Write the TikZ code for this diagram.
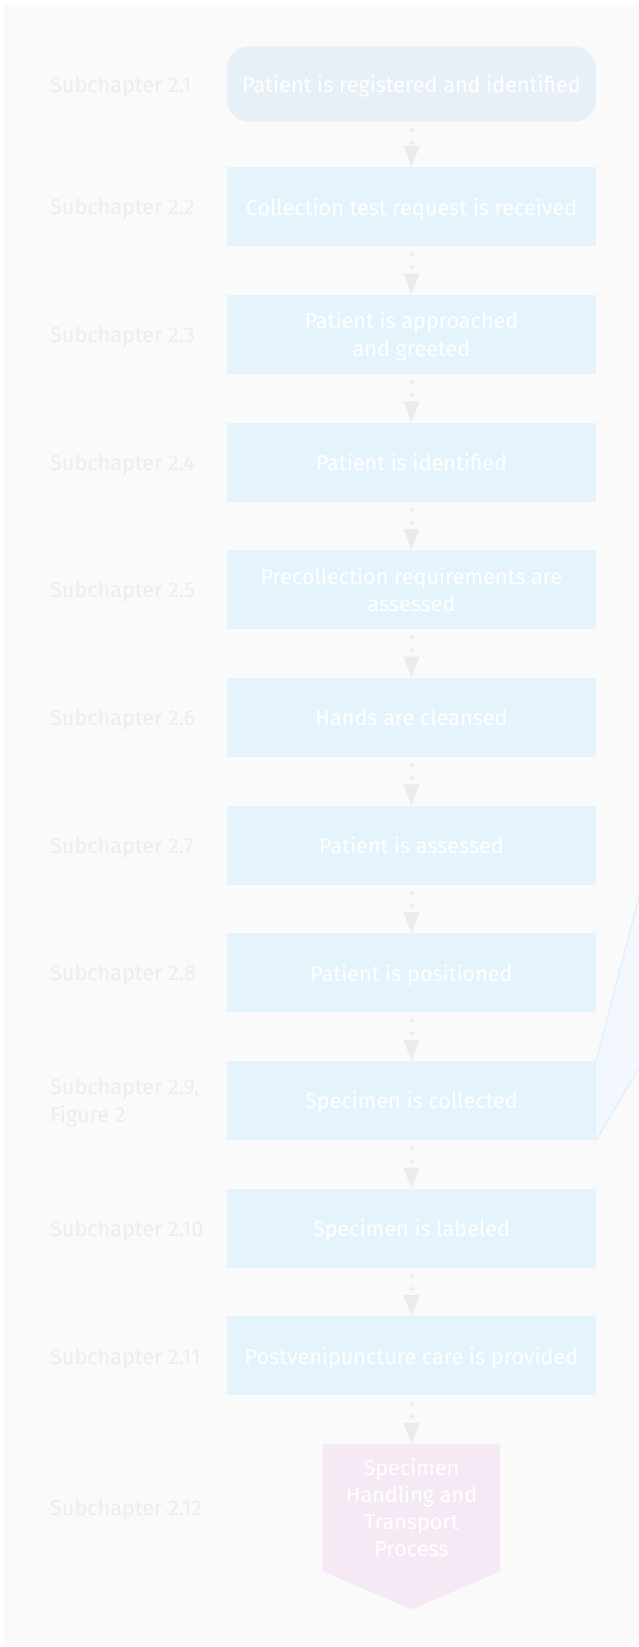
\documentclass[tikz,border=0pt]{standalone}
\usepackage{fontspec}
\setmainfont{Fira Sans}
\usetikzlibrary{arrows.meta,positioning,backgrounds}

\definecolor{pagebg}{HTML}{FAFAFA}
\definecolor{stepblue}{HTML}{E5F4FC}
\definecolor{startblue}{HTML}{E7EFF7}
\definecolor{endpink}{HTML}{F4E9F4}
\definecolor{labelgray}{HTML}{EDEDED}
\definecolor{arrowgray}{HTML}{EBEBEB}
\definecolor{zoomfill}{HTML}{F2F8FD}
\definecolor{zoomline}{HTML}{E2F1FB}

\begin{document}
\begin{tikzpicture}[x=1pt, y=-1pt, node distance=48.3pt,
  stepbox/.style={fill=stepblue, text=white, minimum width=369pt, minimum height=79pt, inner sep=0pt, text depth=0pt, align=center, font=\fontsize{21.6}{27.5}\selectfont},
  startbox/.style={stepbox, fill=startblue, rounded corners=22pt, minimum height=75pt},
  endbox/.style={text=white, minimum width=177pt, minimum height=127pt, inner sep=0pt, text depth=0pt, align=center, font=\fontsize{21.6}{27}\selectfont},
  sublabel/.style={anchor=west, inner sep=0pt, text depth=0pt, text=labelgray, align=left, font=\fontsize{21.6}{27.5}\selectfont},
  flow/.style={draw=arrowgray, line width=4pt, line cap=round, dash pattern=on 0pt off 13pt, dash phase=5pt, -{Triangle[length=21pt,width=15pt]}}]
\useasboundingbox (0,0) rectangle (639,1647);
\begin{scope}[on background layer]
\fill[pagebg] (4,5) rectangle (639,1646);
\end{scope}

% steps
\node[startbox] (s1) at (411.5,84.2) {Patient is registered and identified};
\node[stepbox, below=45pt of s1] (s2) {Collection test request is received};
\node[stepbox, below=of s2] (s3) {Patient is approached\\and greeted};
\node[stepbox, below=of s3] (s4) {Patient is identified};
\node[stepbox, below=of s4] (s5) {Precollection requirements are\\assessed};
\node[stepbox, below=of s5] (s6) {Hands are cleansed};
\node[stepbox, below=of s6] (s7) {Patient is assessed};
\node[stepbox, below=of s7] (s8) {Patient is positioned};
\node[stepbox, below=of s8] (s9) {Specimen is collected};
\node[stepbox, below=of s9] (s10) {Specimen is labeled};
\node[stepbox, below=of s10] (s11) {Postvenipuncture care is provided};
\node[endbox, below=of s11] (s12) {Specimen\\Handling and\\Transport\\Process};
\begin{scope}[on background layer]
\fill[endpink] (s12.north west) -- (s12.north east) -- (s12.south east) -- ([yshift=-38pt]s12.south) -- (s12.south west) -- cycle;
\end{scope}

% zoom out of step 2.9
\fill[zoomfill] (s9.north east) -- (639,897) -- (639,1068) -- (s9.south east) -- cycle;
\draw[zoomline, line width=1.5pt] (s9.north east) -- (639,897);
\draw[zoomline, line width=1.5pt] (s9.south east) -- (639,1068);

% subchapters
\coordinate (lx) at (50,0);
\node[sublabel] (l1) at (lx |- s1) {Subchapter 2.1};
\node[sublabel] (l2) at (lx |- s2) {Subchapter 2.2};
\node[sublabel] (l3) at (lx |- s3) {Subchapter 2.3};
\node[sublabel] (l4) at (lx |- s4) {Subchapter 2.4};
\node[sublabel] (l5) at (lx |- s5) {Subchapter 2.5};
\node[sublabel] (l6) at (lx |- s6) {Subchapter 2.6};
\node[sublabel] (l7) at (lx |- s7) {Subchapter 2.7};
\node[sublabel] (l8) at (lx |- s8) {Subchapter 2.8};
\node[sublabel] (l9) at (lx |- s9) {Subchapter 2.9,\\Figure 2};
\node[sublabel] (l10) at (lx |- s10) {Subchapter 2.10};
\node[sublabel] (l11) at (lx |- s11) {Subchapter 2.11};
\node[sublabel] (l12) at (lx |- s12) {Subchapter 2.12};

\draw[flow] (s1) -- (s2);
\draw[flow] (s2) -- (s3);
\draw[flow] (s3) -- (s4);
\draw[flow] (s4) -- (s5);
\draw[flow] (s5) -- (s6);
\draw[flow] (s6) -- (s7);
\draw[flow] (s7) -- (s8);
\draw[flow] (s8) -- (s9);
\draw[flow] (s9) -- (s10);
\draw[flow] (s10) -- (s11);
\draw[flow] (s11) -- (s12);
\end{tikzpicture}
\end{document}
